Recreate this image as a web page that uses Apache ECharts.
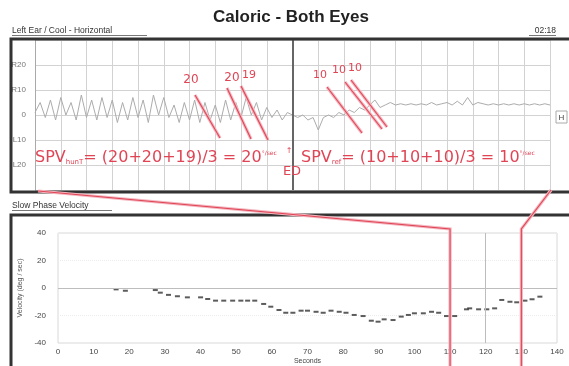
<!DOCTYPE html>
<html><head><meta charset="utf-8">
<script src="https://cdn.jsdelivr.net/npm/echarts@6/dist/echarts.min.js"></script>
<style>html,body{margin:0;padding:0;background:#fff}#c{width:569px;height:366px}</style>
</head><body><div id="c"></div>
<script>
// ---- Top panel: horizontal eye position trace (one sample per time unit) ----
const tracePos = [
  1, 5, -1, 6, -2, 7, 0, 5, -2, 8,
  -1, 6, -2, 7, -1, 6, -3, 5, -2, 7,
  -1, 6, -3, 8, 0, 7, -1, 4, -3, 5,
  -2, 6, -3, 5, -2, 4, -3, 6, -2, 5,
  -1, 7, 0, 5, -2, 3, -1, 2, -2, 1,
  0, -1, 0, -2, -1, -6, -1, 0, -1, 1,
  0, 2, 1, 3, 2, 4, 6, 3, 4, 5,
  4, 4.5, 4, 4.5, 4, 4.5, 4, 5, 4, 4.5,
  5, 4, 5.5, 4, 7, 4, 5, 4.5, 4, 4.5,
  4, 4.5, 4, 4.5, 4, 4.5, 4, 4.5, 4, 4.5, 4
];
const edTime = 50;
const topTickLabels = { '-20': 'L20', '-10': 'L10', '0': '0', '10': 'R10', '20': 'R20' };

// ---- Bottom panel: slow phase velocity (deg/sec) vs seconds ----
const spvTime = [16.3, 18.9, 27.3, 28.7, 31, 33.5, 36.3, 40, 42, 44.2, 46.5, 49, 51.3, 53.2, 55.2,
  57.7, 59.7, 62, 63.9, 65.9, 68.2, 70, 72.4, 74.4, 76.6, 78.9, 80.8, 83.1, 85.6, 87.9, 89.8,
  91.5, 94, 96.3, 98.3, 100, 102.5, 104.8, 106.8, 109, 111.3, 114.6, 115.5, 118, 120.3, 122.5,
  124.5, 126.8, 128.7, 131, 133, 135.2];
const spvValue = [-1, -2, -1.5, -3.4, -5, -6, -6.8, -6.8, -8, -9.2, -9.2, -9.2, -9.2, -9.2, -9.2,
  -11.6, -13.6, -16, -18, -18, -16.5, -16.5, -17.3, -18, -16.5, -17.3, -18, -19.6, -20.4, -23.8, -24.5,
  -22.8, -23.3, -20.8, -19.6, -18.4, -18.4, -17.3, -18, -20.4, -20.4, -15.5, -14.8, -15.5, -15.5, -14.8,
  -8.7, -10, -10.4, -9.2, -8.2, -6.3];
const markedSeconds = [110, 130];
const refSecond = 120;

const RED = '#e04556', PINK = '#f4b6bf';
const FONT = '"Liberation Sans", Arial, sans-serif';
const RFONT = '"DejaVu Sans", sans-serif';

function txt(x, y, text, size, color, align, weight, fam) {
  return { type: 'text', x: x, y: y, z: 20, silent: true,
    style: { text: text, fill: color, font: (weight || 'normal') + ' ' + size + 'px ' + (fam || FONT),
      align: align || 'left', verticalAlign: 'middle', textAlign: align || 'left', textVerticalAlign: 'middle' } };
}
function redLine(pts) {
  return [
    { type: 'polyline', z: 18, silent: true, shape: { points: pts }, style: { stroke: PINK, lineWidth: 3.2, fill: null } },
    { type: 'polyline', z: 19, silent: true, shape: { points: pts }, style: { stroke: RED, lineWidth: 1.1, fill: null } }
  ];
}
function hline(x1, x2, y, c, w) {
  return { type: 'line', z: 15, silent: true, shape: { x1: x1, y1: y, x2: x2, y2: y }, style: { stroke: c, lineWidth: w } };
}
function formula(x, y, sub, body) {
  return { type: 'text', x: x, y: y, z: 20, silent: true,
    style: { text: '{a|SPV}{s|' + sub + '}{a|= ' + body + '}{p|°/sec}', verticalAlign: 'middle', textVerticalAlign: 'middle',
      rich: { a: { fill: RED, fontSize: 16, fontFamily: RFONT },
              s: { fill: RED, fontSize: 7, fontFamily: RFONT, verticalAlign: 'bottom' },
              p: { fill: RED, fontSize: 6, fontFamily: RFONT, verticalAlign: 'top' } } } };
}

const chart = echarts.init(document.getElementById('c'), null, { renderer: 'canvas' });

const graphics = [].concat(
  [
    txt(291, 17, 'Caloric - Both Eyes', 17, '#222', 'center', 'bold'),
    txt(12, 31, 'Left Ear / Cool - Horizontal', 8.5, '#333'),
    hline(12, 147, 35.5, '#777', 1),
    txt(556, 31, '02:18', 8.5, '#333', 'right'),
    hline(529, 556, 35.5, '#777', 1),
    { type: 'rect', z: 16, silent: true, shape: { x: 11, y: 39, width: 600, height: 153 }, style: { stroke: '#333', lineWidth: 3, fill: null } },
    { type: 'rect', z: 16, silent: true, shape: { x: 556, y: 111, width: 11, height: 12 }, style: { stroke: '#aaa', lineWidth: 1, fill: '#fff' } },
    txt(561.5, 117.5, 'H', 8, '#444', 'center'),
    txt(12, 206, 'Slow Phase Velocity', 8.5, '#333'),
    hline(12, 112, 210.5, '#777', 1),
    { type: 'rect', z: 16, silent: true, shape: { x: 11, y: 215, width: 600, height: 200 }, style: { stroke: '#333', lineWidth: 3, fill: null } },
    // red annotations
    txt(191, 80, '20', 12, RED, 'center', 'normal', RFONT),
    txt(232, 78, '20', 12, RED, 'center', 'normal', RFONT),
    txt(249, 75, '19', 11, RED, 'center', 'normal', RFONT),
    txt(320, 75, '10', 11, RED, 'center', 'normal', RFONT),
    txt(339, 70, '10', 11, RED, 'center', 'normal', RFONT),
    txt(355, 68, '10', 11, RED, 'center', 'normal', RFONT),
    txt(292, 172, 'ED', 13, RED, 'center', 'normal', RFONT),
    txt(289, 151, '↑', 8, RED, 'center', 'normal', RFONT),
    formula(35, 158, 'hunT', '(20+20+19)/3 = 20'),
    formula(301, 158, 'ref', '(10+10+10)/3 = 10')
  ],
  redLine([[195, 95], [220, 138]]),
  redLine([[227, 88], [251, 139]]),
  redLine([[241, 86], [268, 140]]),
  redLine([[327, 87], [362, 133]]),
  redLine([[345, 82], [382, 129]]),
  redLine([[351, 80], [387, 127]])
);

const option = {
  animation: false,
  backgroundColor: '#fff',
  textStyle: { fontFamily: FONT },
  grid: [
    { left: 35, top: 40, width: 515, height: 150 },
    { left: 58, top: 233, width: 499, height: 110, show: true, borderColor: '#d8d8d8', borderWidth: 1 }
  ],
  xAxis: [
    { gridIndex: 0, type: 'value', min: 0, max: 100, interval: 5,
      axisLine: { show: false }, axisTick: { show: false }, axisLabel: { show: false },
      splitLine: { lineStyle: { color: '#d2d2d2' } } },
    { gridIndex: 1, type: 'value', min: 0, max: 140, interval: 10,
      axisLine: { show: false }, axisTick: { show: false },
      axisLabel: { fontSize: 8, color: '#444', margin: 5 }, splitLine: { show: false },
      name: 'Seconds', nameLocation: 'middle', nameGap: 15, nameTextStyle: { fontSize: 7, color: '#444' } }
  ],
  yAxis: [
    { gridIndex: 0, type: 'value', min: -30, max: 30, interval: 10,
      axisLine: { show: true, lineStyle: { color: '#aaa' } }, axisTick: { show: false },
      axisLabel: { fontSize: 8, color: '#777', margin: 9, formatter: v => topTickLabels[String(v)] || '' },
      splitLine: { lineStyle: { color: '#d2d2d2' } } },
    { gridIndex: 1, type: 'value', min: -40, max: 40, interval: 20,
      axisLine: { show: false }, axisTick: { show: false },
      axisLabel: { fontSize: 8, color: '#444', margin: 12 },
      splitLine: { lineStyle: { color: '#ececec', type: 'dotted' } },
      name: 'Velocity (deg / sec)', nameLocation: 'middle', nameGap: 25, nameRotate: 90,
      nameTextStyle: { fontSize: 7, color: '#555' } }
  ],
  series: [
    { type: 'line', xAxisIndex: 0, yAxisIndex: 0, showSymbol: false, symbol: 'none',
      data: tracePos.map((v, i) => [i, v]),
      lineStyle: { color: '#acacac', width: 1 },
      markLine: { silent: true, symbol: 'none', label: { show: false },
        lineStyle: { color: '#666', width: 2, type: 'solid' }, data: [{ xAxis: edTime }] } },
    { type: 'scatter', xAxisIndex: 1, yAxisIndex: 1, symbol: 'rect', symbolSize: [5, 2],
      itemStyle: { color: '#333' },
      data: spvTime.map((t, i) => [t, spvValue[i]]),
      markLine: { silent: true, symbol: 'none', label: { show: false },
        lineStyle: { color: '#bdbdbd', width: 1, type: 'solid' },
        data: [{ yAxis: 0 }, { xAxis: refSecond }] } }
  ],
  graphic: graphics
};
chart.setOption(option);

// red connector lines: from the top panel down to the marked seconds on the bottom axis
const px = markedSeconds.map(s => chart.convertToPixel({ xAxisIndex: 1 }, s));
const extra = [].concat(
  redLine([[38, 191], [px[0], 229], [px[0], 366]]),
  redLine([[551, 190], [px[1], 229], [px[1], 366]])
);
chart.setOption({ graphic: graphics.concat(extra) });
</script></body></html>
